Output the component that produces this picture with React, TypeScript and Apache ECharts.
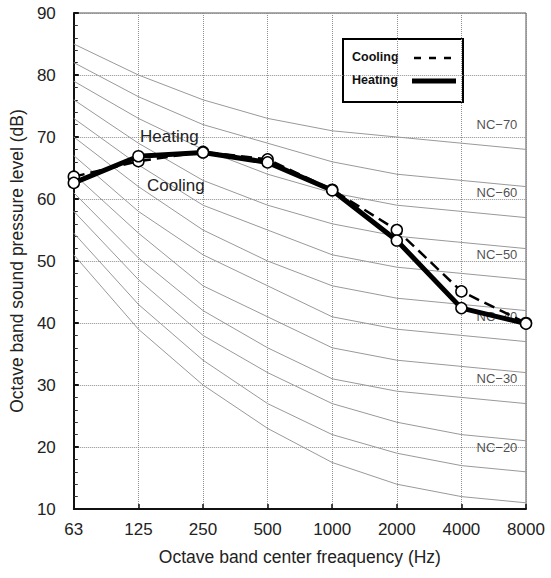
import React, { useEffect, useRef } from "react";
import * as echarts from "echarts";

const freqLabels = ["63", "125", "250", "500", "1000", "2000", "4000", "8000"];

const coolingLevels = [63.6, 66.1, 67.6, 66.4, 61.5, 55.0, 45.1, 40.0];
const heatingLevels = [62.6, 66.9, 67.5, 65.9, 61.4, 53.3, 42.4, 39.9];

const nc15 = [51, 39, 30, 23, 17.5, 14, 12, 11];
const nc20 = [54.5, 43, 34, 27, 22, 19, 17, 16];
const nc25 = [58, 47, 38, 32, 27, 24, 22, 21];
const nc30 = [61, 50.5, 42, 36, 31, 29, 28, 27];
const nc35 = [64, 54.5, 46, 41, 36, 34, 33, 32];
const nc40 = [67, 58, 51, 46, 41, 39, 38, 37];
const nc45 = [70, 62, 55, 50, 46, 44, 43, 42];
const nc50 = [73, 65.5, 59, 55, 51, 49, 48, 47];
const nc55 = [76, 69, 63, 59, 56, 54, 53, 52];
const nc60 = [79, 73, 68, 64, 61, 59, 58, 57];
const nc65 = [82, 76.5, 72, 69, 66, 64, 63, 62];
const nc70 = [85, 80, 76, 73, 71, 70, 69, 68];

const ncCurves = [nc15, nc20, nc25, nc30, nc35, nc40, nc45, nc50, nc55, nc60, nc65, nc70];
const ncNumbers = [15, 20, 25, 30, 35, 40, 45, 50, 55, 60, 65, 70];

const FONT = "'Liberation Sans', Arial, sans-serif";
const TXT = "#222";

export default function App() {
  const ref = useRef<HTMLDivElement>(null);

  useEffect(() => {
    if (!ref.current) return;
    const chart = echarts.init(ref.current, undefined, { renderer: "svg" });

    const ncSeries: any[] = ncCurves.map((vals, i) => ({
      name: "NC-" + ncNumbers[i],
      type: "line",
      data: vals.map((v, k) => [k, v]),
      symbol: "none",
      silent: true,
      lineStyle: { color: "#999", width: 1 },
      z: 2,
    }));

    const labelData = ncCurves
      .map((vals, i) => ({ vals, n: ncNumbers[i] }))
      .filter((c) => c.n % 10 === 0)
      .map((c) => [6.55, c.vals[c.vals.length - 1] + 4, "NC\u2212" + c.n]);

    const option: any = {
      animation: false,
      textStyle: { fontFamily: FONT },
      grid: {
        left: 72,
        right: 25,
        top: 13,
        bottom: 69,
        show: true,
        borderColor: "#555",
        borderWidth: 1,
      },
      xAxis: {
        type: "value",
        min: 0,
        max: 7,
        interval: 1,
        name: "Octave band center freaquency (Hz)",
        nameLocation: "middle",
        nameGap: 39,
        nameTextStyle: { fontSize: 17.5, color: TXT, fontFamily: FONT },
        axisLine: { show: true, lineStyle: { color: "#111", width: 2 } },
        axisTick: { show: true, inside: true, length: 5, lineStyle: { color: "#111", width: 1.5 } },
        axisLabel: {
          fontSize: 17,
          color: TXT,
          margin: 12,
          fontFamily: FONT,
          formatter: (v: number) => freqLabels[v] ?? "",
        },
        splitLine: { show: true, lineStyle: { type: "dotted", color: "#8f8f8f", width: 1 } },
      },
      yAxis: {
        type: "value",
        min: 10,
        max: 90,
        interval: 10,
        name: "Octave band sound pressure level (dB)",
        nameLocation: "middle",
        nameGap: 43,
        nameTextStyle: { fontSize: 17.5, color: TXT, fontFamily: FONT },
        axisLine: { show: true, lineStyle: { color: "#111", width: 2 } },
        axisTick: { show: true, inside: true, length: 5, lineStyle: { color: "#111", width: 2 } },
        minorTick: { show: true, splitNumber: 5, length: 4, lineStyle: { color: "#333", width: 1 } },
        axisLabel: { fontSize: 17, color: TXT, margin: 18, fontFamily: FONT },
        splitLine: { show: true, lineStyle: { type: "dotted", color: "#8f8f8f", width: 1 } },
      },
      series: [
        ...ncSeries,
        {
          name: "NC labels",
          type: "scatter",
          data: labelData,
          symbolSize: 1,
          silent: true,
          itemStyle: { color: "rgba(0,0,0,0)" },
          label: {
            show: true,
            position: "inside",
            formatter: (p: any) => p.data[2],
            fontSize: 13,
            color: "#222",
            fontFamily: FONT,
          },
          z: 3,
        },
        {
          name: "Cooling",
          type: "line",
          data: coolingLevels.map((v, k) => [k, v]),
          symbol: "circle",
          symbolSize: 11,
          showAllSymbol: true,
          lineStyle: { color: "#000", width: 2.5, type: [11, 6] },
          itemStyle: { color: "#fff", borderColor: "#000", borderWidth: 1.5 },
          z: 4,
        },
        {
          name: "Heating",
          type: "line",
          data: heatingLevels.map((v, k) => [k, v]),
          symbol: "circle",
          symbolSize: 11,
          showAllSymbol: true,
          lineStyle: { color: "#000", width: 5 },
          itemStyle: { color: "#fff", borderColor: "#000", borderWidth: 1.5 },
          z: 5,
        },
      ],
      graphic: [
        {
          type: "text",
          left: 140,
          top: 128,
          z: 10,
          style: { text: "Heating", fontSize: 17, fill: TXT, fontFamily: FONT },
        },
        {
          type: "text",
          left: 147,
          top: 177,
          z: 10,
          style: { text: "Cooling", fontSize: 17, fill: TXT, fontFamily: FONT },
        },
        {
          type: "group",
          z: 20,
          children: [
            {
              type: "rect",
              shape: { x: 343, y: 39, width: 120, height: 63 },
              style: { fill: "#fff", stroke: "#000", lineWidth: 2 },
            },
            {
              type: "text",
              x: 352,
              y: 57,
              style: {
                text: "Cooling",
                fontSize: 12.5,
                fontWeight: "bold",
                fill: "#111",
                fontFamily: FONT,
                verticalAlign: "middle",
              },
            },
            {
              type: "line",
              shape: { x1: 414, y1: 58, x2: 456, y2: 58 },
              style: { stroke: "#000", lineWidth: 2.5, lineDash: [7, 8] },
            },
            {
              type: "text",
              x: 352,
              y: 80,
              style: {
                text: "Heating",
                fontSize: 12.5,
                fontWeight: "bold",
                fill: "#111",
                fontFamily: FONT,
                verticalAlign: "middle",
              },
            },
            {
              type: "line",
              shape: { x1: 412, y1: 81, x2: 456, y2: 81 },
              style: { stroke: "#000", lineWidth: 5 },
            },
          ],
        },
      ],
    };

    chart.setOption(option);
    return () => chart.dispose();
  }, []);

  return (
    <div
      ref={ref}
      style={{ position: "absolute", left: 0, top: 0, width: 551, height: 578, background: "#fff" }}
    />
  );
}
